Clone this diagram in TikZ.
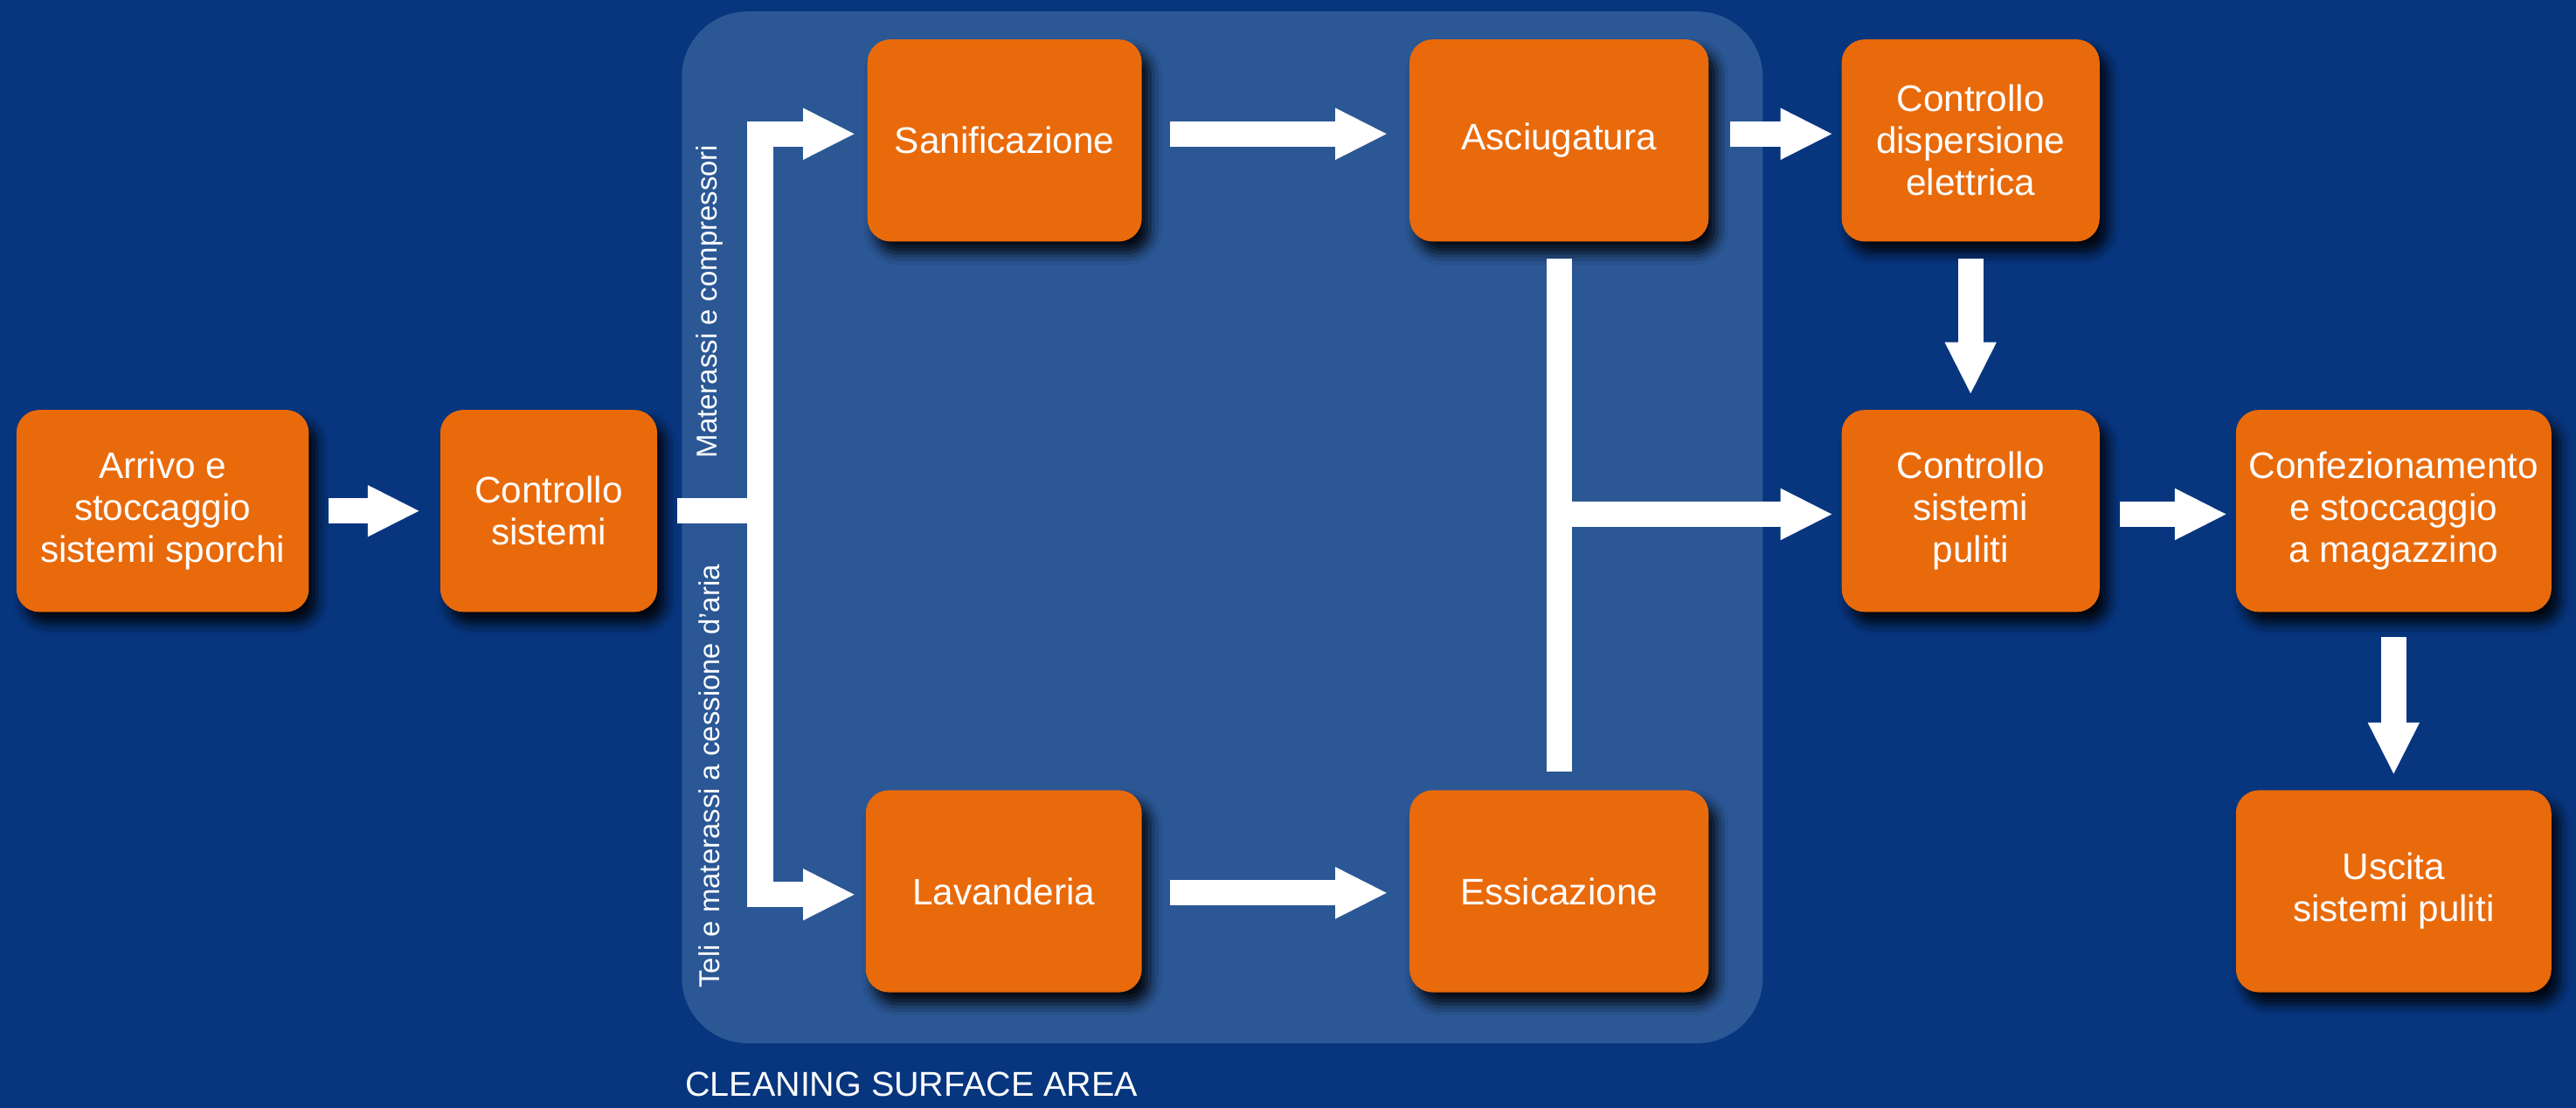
\documentclass[tikz,border=0pt]{standalone}
\usepackage{fontspec}
\setmainfont{Liberation Sans}
\usetikzlibrary{arrows.meta,shadows.blur,calc}
\definecolor{bgblue}{HTML}{07367F}
\definecolor{areablue}{HTML}{2B5795}
\definecolor{boxorange}{HTML}{E96A0B}
\tikzset{
  box/.style={fill=boxorange, rounded corners=14pt, text=white, align=center,
    font=\fontsize{22.5}{25.5}\selectfont, minimum height=123pt, inner sep=0pt,
    blur shadow={shadow xshift=5pt, shadow yshift=-7pt, shadow blur radius=7pt, shadow opacity=90}},
  arr/.style={draw=white, line width=15.5pt, line join=miter, -{Triangle[length=32pt,width=29pt]}},
  bar/.style={draw=white, line width=15.5pt, line join=miter},
  vlabel/.style={text=white, rotate=90, font=\fontsize{17.5}{20}\selectfont, inner sep=0pt},
}
\begin{document}
\begin{tikzpicture}[x=1pt,y=-1pt]
\useasboundingbox (0,0) rectangle (1568,674);
\fill[bgblue] (-3,-3) rectangle (1571,677);
\fill[areablue, rounded corners=40pt] (415,7) rectangle (1073,635);

\node[box, minimum width=178pt] (b1) at (99,311) {Arrivo e\\stoccaggio\\sistemi sporchi};
\node[box, minimum width=132pt] (b2) at (334,311) {Controllo\\sistemi};
\node[box, minimum width=167pt] (san) at (611.5,85.5) {Sanificazione};
\node[box, minimum width=182pt] (asc) at (949,85.5) {Asciugatura};
\node[box, minimum width=157pt] (cde) at (1199.5,85.5) {Controllo\\dispersione\\elettrica};
\node[box, minimum width=157pt] (cpu) at (1199.5,311) {Controllo\\sistemi\\puliti};
\node[box, minimum width=192pt] (con) at (1457,311) {Confezionamento\\e stoccaggio\\a magazzino};
\node[box, minimum width=168pt] (lav) at (611,542.5) {Lavanderia};
\node[box, minimum width=182pt] (ess) at (949,542.5) {Essicazione};
\node[box, minimum width=192pt] (usc) at (1457,542.5) {Uscita\\sistemi puliti};

% arrows
\draw[arr] ([xshift=12pt]b1.east) -- ([xshift=-12pt]b2.west);
\coordinate (jx) at ($(b2.east)+(62.5,0)$);
\draw[bar] ([xshift=12pt]b2.east) -- (jx);
\draw[arr] (jx) |- ([xshift=-7pt,yshift=4pt]san.west);
\draw[arr] (jx) |- ([xshift=-6pt,yshift=-2pt]lav.west);
\draw[arr] ([xshift=17pt,yshift=4pt]san.east) -- ([xshift=-13pt,yshift=4pt]asc.west);
\draw[arr] ([xshift=17pt,yshift=-1pt]lav.east) -- ([xshift=-13pt,yshift=-1pt]ess.west);
\draw[arr] ([xshift=13pt,yshift=4pt]asc.east) -- ([xshift=-5pt,yshift=4pt]cde.west);
\draw[bar] ([yshift=-10pt]asc.south) -- ([yshift=11pt]ess.north);
\draw[arr] (asc.south |- cpu.west) ++(0,2) -- ([xshift=-5pt,yshift=-2pt]cpu.west);
\draw[arr] ([yshift=-10pt]cde.south) -- ([yshift=9pt]cpu.north);
\draw[arr] ([xshift=12pt,yshift=-2pt]cpu.east) -- ([xshift=-5pt,yshift=-2pt]con.west);
\draw[arr] ([yshift=-15pt]con.south) -- ([yshift=9pt]usc.north);

% labels
\node[vlabel] (l1) at (432,183.5) {Materassi e compressori};
\node[vlabel] (l2) at (432,472.5) {Teli e materassi a cessione d’aria};
\node[text=white, anchor=west, inner sep=0pt, font=\fontsize{21}{24}\selectfont] (area) at (417,660) {CLEANING SURFACE AREA};
\end{tikzpicture}
\end{document}
